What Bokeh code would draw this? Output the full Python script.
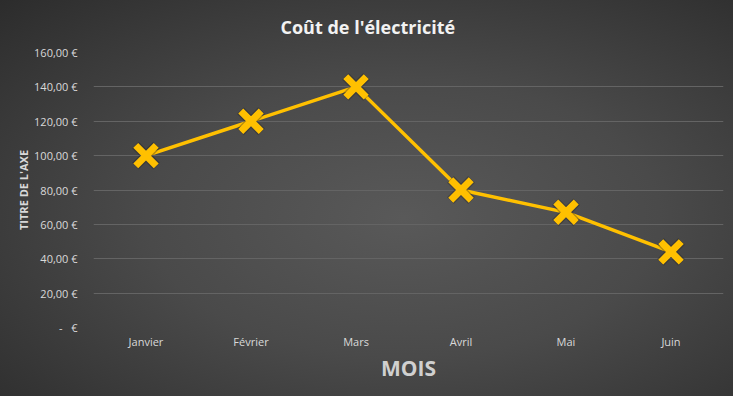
from bokeh.plotting import figure
from bokeh.models import CustomJSTickFormatter, FixedTicker, Range1d
from bokeh.embed import file_html
from bokeh.resources import INLINE

months = ["Janvier", "Février", "Mars", "Avril", "Mai", "Juin"]
costs = [100, 120, 140, 80, 67, 44]
y_ticks = [0, 20, 40, 60, 80, 100, 120, 140, 160]
title_text = "Coût de l'électricité"
x_title = "MOIS"
y_title = "TITRE DE L'AXE"

p = figure(width=733, height=396, x_range=months, y_range=Range1d(0, 160),
           output_backend="svg", toolbar_location=None,
           min_border_left=93, min_border_right=10, min_border_top=52, min_border_bottom=69)

p.styles = {"background-image": "radial-gradient(ellipse at 55% 55%, #595959 0%, #4a4a4a 45%, #2c2c2c 100%)"}
p.background_fill_alpha = 0
p.border_fill_alpha = 0
p.outline_line_color = None

p.title.text = title_text
p.title.align = "left"
p.title.vertical_align = "top"
p.title.offset = 187
p.title.text_font = "Open Sans"
p.title.text_font_size = "18px"
p.title.text_font_style = "bold"
p.title.text_color = "#f2f2f2"
p.title.standoff = 24

p.line(months, costs, line_color="#FFC000", line_width=3.5)
p.scatter(months, costs, marker="x", size=30, line_color="#222222", line_alpha=0.35, line_width=9.5)
p.scatter(months, costs, marker="x", size=29, line_color="#FFC000", line_width=7)

p.yaxis.ticker = FixedTicker(ticks=y_ticks)
p.yaxis.formatter = CustomJSTickFormatter(code="""
if (tick == 0) { return "-\u00a0\u00a0\u00a0€"; }
return tick.toFixed(2).replace('.', ',') + " €";
""")
for ax in (p.xaxis[0], p.yaxis[0]):
    ax.axis_line_color = None
    ax.major_tick_line_color = None
    ax.minor_tick_line_color = None
    ax.major_label_text_color = "#d9d9d9"
    ax.major_label_text_font = "Open Sans"
    ax.major_label_text_font_size = "11px"
    ax.axis_label_text_font = "Open Sans"
    ax.axis_label_text_font_style = "bold"
    ax.axis_label_text_color = "#d9d9d9"

p.yaxis.major_label_standoff = 10
p.yaxis.axis_label = y_title
p.yaxis.axis_label_text_font_size = "11px"
p.yaxis.axis_label_standoff = 0

p.xaxis.major_label_standoff = 0
p.xaxis.axis_label = x_title
p.xaxis.axis_label_text_font_size = "21px"
p.xaxis.axis_label_text_color = "#d0d0d0"
p.xaxis.axis_label_standoff = 2

p.xgrid.grid_line_color = None
p.ygrid.grid_line_color = "#646464"
p.ygrid.grid_line_width = 1

open("out.html", "w").write(file_html(p, INLINE))
